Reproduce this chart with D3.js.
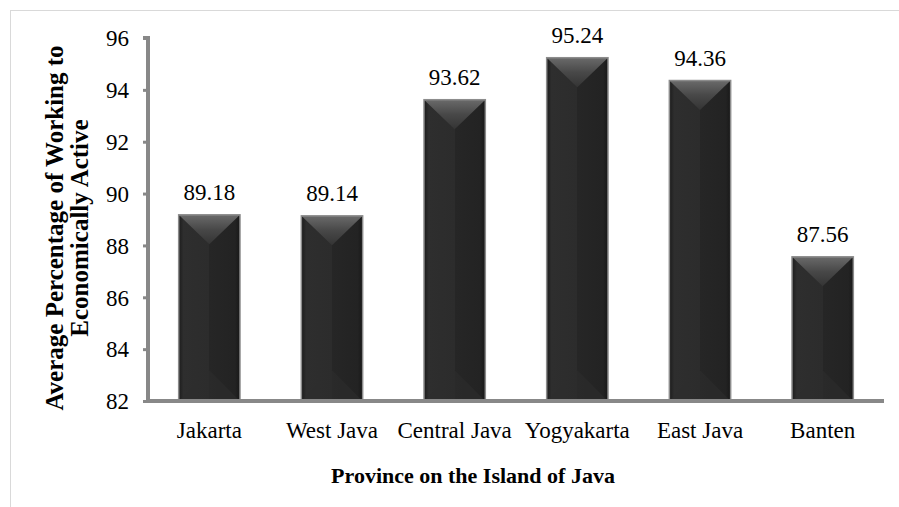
<!DOCTYPE html>
<html>
<head>
    <title>Average Percentage of Working to Economically Active</title>
    <script src="https://cdnjs.cloudflare.com/ajax/libs/d3/7.8.5/d3.min.js"></script>
    <style>
        body {
            margin: 0;
            background-color: white;
        }

        svg text {
            font-family: "Liberation Serif", "Times New Roman", serif !important;
        }

        .tick text {
            font-size: 23px;
            fill: #000;
        }

        .bar-label {
            font-size: 23px;
        }

        .axis-title {
            font-size: 22px;
            font-weight: bold;
        }

        .y-title {
            font-size: 25px;
            font-weight: bold;
        }
    </style>
</head>

<body>
    <div id="chart"></div>

    <script>
        // data
        const provinces = ['Jakarta', 'West Java', 'Central Java', 'Yogyakarta', 'East Java', 'Banten'];
        const values = [89.18, 89.14, 93.62, 95.24, 94.36, 87.56];
        const yTicks = [82, 84, 86, 88, 90, 92, 94, 96];

        const width = 899, height = 507;
        const serif = '"Liberation Serif", "Times New Roman", serif';

        const svg = d3.select("#chart").append("svg")
            .attr("width", width)
            .attr("height", height)
            .attr("font-family", serif);

        // gradients for the bevelled bars
        const defs = svg.append("defs");

        const body = defs.append("linearGradient")
            .attr("id", "barBody")
            .attr("x1", "0%").attr("x2", "100%").attr("y1", "0%").attr("y2", "0%");
        [[0, "#1c1c1c"], [0.08, "#2e2e2e"], [0.5, "#2c2c2c"], [0.5, "#262626"], [0.92, "#232323"], [1, "#181818"]]
            .forEach(s => body.append("stop").attr("offset", s[0]).attr("stop-color", s[1]));

        const topGrad = defs.append("linearGradient")
            .attr("id", "barTop")
            .attr("x1", "0%").attr("x2", "0%").attr("y1", "0%").attr("y2", "100%");
        [[0, "#6a6a6a"], [0.5, "#484848"], [1, "#343434"]]
            .forEach(s => topGrad.append("stop").attr("offset", s[0]).attr("stop-color", s[1]));

        // frame lines (only top and left show)
        svg.append("line")
            .attr("x1", 10).attr("y1", 10.5).attr("x2", width).attr("y2", 10.5)
            .attr("stroke", "#d9d9d9").attr("stroke-width", 1);
        svg.append("line")
            .attr("x1", 10.5).attr("y1", 10).attr("x2", 10.5).attr("y2", height)
            .attr("stroke", "#d9d9d9").attr("stroke-width", 1);

        const x = d3.scaleBand()
            .domain(provinces)
            .range([148, 884])
            .paddingInner(0.5)
            .paddingOuter(0.25);

        const y = d3.scaleLinear()
            .domain([82, 96])
            .range([401, 38]);

        const bars = svg.selectAll(".bar")
            .data(provinces.map((p, i) => ({ name: p, value: values[i] })))
            .enter().append("g")
            .attr("class", "bar");

        bars.append("rect")
            .attr("x", d => x(d.name))
            .attr("y", d => y(d.value))
            .attr("width", x.bandwidth())
            .attr("height", d => y(82) - y(d.value))
            .attr("fill", "url(#barBody)");

        // bottom bevel
        bars.append("path")
            .attr("d", d => {
                const x0 = x(d.name), x1 = x0 + x.bandwidth(), cx = x0 + x.bandwidth() / 2;
                const b = y(82), h = x.bandwidth() * 0.5;
                return `M${x0},${b} L${cx},${b - h} L${x1},${b} Z`;
            })
            .attr("fill", "#2d2d2d")
            .attr("opacity", 0.6);

        // top bevel
        bars.append("path")
            .attr("d", d => {
                const x0 = x(d.name), x1 = x0 + x.bandwidth(), cx = x0 + x.bandwidth() / 2;
                const t = y(d.value), h = x.bandwidth() * 0.48;
                return `M${x0},${t} L${x1},${t} L${cx},${t + h} Z`;
            })
            .attr("fill", "url(#barTop)");

        bars.append("rect")
            .attr("x", d => x(d.name))
            .attr("y", d => y(d.value))
            .attr("width", x.bandwidth())
            .attr("height", d => y(82) - y(d.value))
            .attr("fill", "none")
            .attr("stroke", "#8c8c8c")
            .attr("stroke-width", 1.5);

        bars.append("text")
            .attr("class", "bar-label")
            .attr("font-family", serif)
            .attr("x", d => x(d.name) + x.bandwidth() / 2)
            .attr("y", d => y(d.value) - 15)
            .attr("text-anchor", "middle")
            .text(d => d.value.toFixed(2));

        // y axis
        const yAxis = svg.append("g")
            .attr("transform", "translate(148,0)")
            .call(d3.axisLeft(y).tickValues(yTicks).tickSize(5).tickPadding(14))
            .attr("font-family", serif);
        yAxis.select(".domain")
            .attr("stroke", "#888")
            .attr("stroke-width", 4)
            .attr("d", `M-5,${y(96)}H0V${y(82)}`);
        yAxis.selectAll(".tick line").attr("stroke", "#888").attr("stroke-width", 3);
        yAxis.selectAll(".tick text").attr("dy", "0.34em");

        // x axis
        const xAxis = svg.append("g")
            .attr("transform", `translate(0,${y(82)})`)
            .call(d3.axisBottom(x).tickSize(0).tickPadding(21))
            .attr("font-family", serif);
        xAxis.select(".domain")
            .attr("stroke", "#888")
            .attr("stroke-width", 4)
            .attr("d", `M146,0H884`);

        svg.append("text")
            .attr("class", "axis-title")
            .attr("x", 473)
            .attr("y", 483)
            .attr("text-anchor", "middle")
            .text("Province on the Island of Java");

        const yTitle = svg.append("text")
            .attr("class", "y-title")
            .attr("text-anchor", "middle")
            .attr("transform", "translate(63,228) rotate(-90)");
        yTitle.append("tspan").attr("x", 0).attr("y", 0).text("Average Percentage of Working to");
        yTitle.append("tspan").attr("x", 0).attr("y", 25).text("Economically Active");
    </script>
</body>
</html>
